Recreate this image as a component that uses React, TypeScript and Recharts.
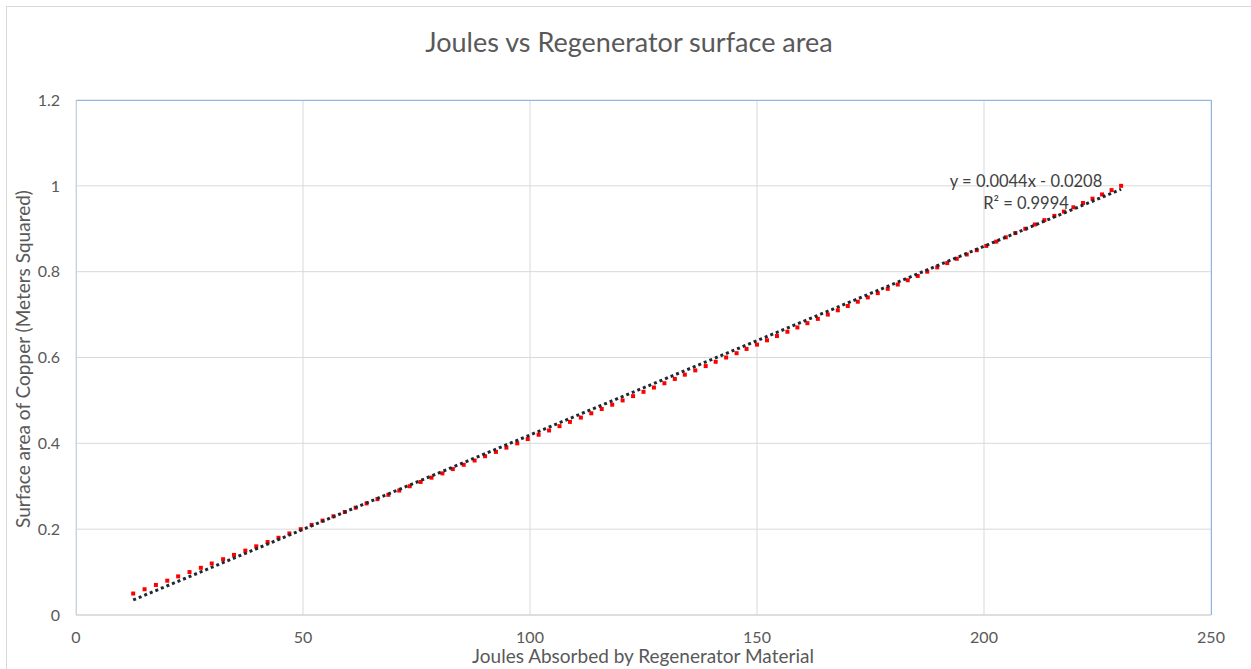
import { ScatterChart, Scatter, XAxis, YAxis, CartesianGrid } from 'recharts';

// surface area of copper (m²), one point per 0.01
const surfaceArea = [
  0.05, 0.06, 0.07, 0.08, 0.09, 0.1, 0.11, 0.12, 0.13, 0.14,
  0.15, 0.16, 0.17, 0.18, 0.19, 0.2, 0.21, 0.22, 0.23, 0.24,
  0.25, 0.26, 0.27, 0.28, 0.29, 0.3, 0.31, 0.32, 0.33, 0.34,
  0.35, 0.36, 0.37, 0.38, 0.39, 0.4, 0.41, 0.42, 0.43, 0.44,
  0.45, 0.46, 0.47, 0.48, 0.49, 0.5, 0.51, 0.52, 0.53, 0.54,
  0.55, 0.56, 0.57, 0.58, 0.59, 0.6, 0.61, 0.62, 0.63, 0.64,
  0.65, 0.66, 0.67, 0.68, 0.69, 0.7, 0.71, 0.72, 0.73, 0.74,
  0.75, 0.76, 0.77, 0.78, 0.79, 0.8, 0.81, 0.82, 0.83, 0.84,
  0.85, 0.86, 0.87, 0.88, 0.89, 0.9, 0.91, 0.92, 0.93, 0.94,
  0.95, 0.96, 0.97, 0.98, 0.99, 1.0,
];

// joules absorbed
const joules = [
  12.6, 15.1, 17.6, 20.1, 22.5, 25.0, 27.5, 29.9, 32.4, 34.8,
  37.3, 39.7, 42.2, 44.6, 47.0, 49.5, 51.9, 54.3, 56.7, 59.2,
  61.6, 64.0, 66.4, 68.8, 71.2, 73.5, 75.9, 78.3, 80.7, 83.0,
  85.4, 87.8, 90.1, 92.5, 94.8, 97.2, 99.5, 101.9, 104.2, 106.5,
  108.8, 111.2, 113.5, 115.8, 118.1, 120.4, 122.7, 125.0, 127.3, 129.6,
  131.9, 134.1, 136.4, 138.7, 140.9, 143.2, 145.5, 147.7, 150.0, 152.2,
  154.4, 156.7, 158.9, 161.1, 163.4, 165.6, 167.8, 170.0, 172.2, 174.4,
  176.6, 178.8, 181.0, 183.2, 185.4, 187.5, 189.7, 191.9, 194.0, 196.2,
  198.4, 200.5, 202.7, 204.8, 206.9, 209.1, 211.2, 213.3, 215.5, 217.6,
  219.7, 221.8, 223.9, 226.0, 228.1, 230.2,
];

// linear trendline ends
const trendX = [12.6, 230.2];
const trendY = [0.035, 0.992];

const xTicks = [0, 50, 100, 150, 200, 250];
const yTicks = [0, 0.2, 0.4, 0.6, 0.8, 1, 1.2];

const points = joules.map((x, i) => ({ x, y: surfaceArea[i] }));
const trend = trendX.map((x, i) => ({ x, y: trendY[i] }));

const FONT = 'Lato, "Open Sans", sans-serif';
const TEXT = '#595959';

const RedSquare = (props: any) => {
  const { cx, cy } = props;
  if (cx == null || cy == null) return null;
  return <rect x={cx - 2} y={cy - 2} width={4} height={4} fill="#ff0000" />;
};

export default function App() {
  return (
    <div style={{ position: 'relative', width: 1251, height: 669, background: '#fff', overflow: 'hidden', fontFamily: FONT }}>
      <style>{`body { margin: 0; }`}</style>

      {/* chart frame */}
      <div style={{ position: 'absolute', left: 6, top: 6, width: 1300, height: 700, border: '1px solid #d9d9d9' }} />

      <div style={{ position: 'absolute', left: 0, top: 25, width: 1258, textAlign: 'center', fontSize: 27, color: TEXT }}>
        Joules vs Regenerator surface area
      </div>

      <div style={{ position: 'absolute', left: 0, top: 0 }}>
        <ScatterChart width={1251} height={669} margin={{ top: 100, right: 40, bottom: 24, left: 16 }}>
          <CartesianGrid stroke="#d9d9d9" />
          <XAxis
            type="number"
            dataKey="x"
            domain={[0, 250]}
            ticks={xTicks}
            tickLine={false}
            axisLine={{ stroke: '#d0d0d0' }}
            tickMargin={11}
            height={30}
            tick={{ fontSize: 16, fill: TEXT, fontFamily: FONT }}
          />
          <YAxis
            type="number"
            dataKey="y"
            domain={[0, 1.2]}
            ticks={yTicks}
            tickLine={false}
            axisLine={false}
            tickMargin={10}
            width={60}
            tick={{ fontSize: 16, fill: TEXT, fontFamily: FONT }}
          />
          <Scatter data={points} shape={<RedSquare />} isAnimationActive={false} />
          <Scatter
            data={trend}
            line={{ stroke: '#1f2833', strokeWidth: 3, strokeDasharray: '3 3' }}
            shape={() => null}
            isAnimationActive={false}
          />
        </ScatterChart>
      </div>

      {/* selected plot area outline */}
      <div style={{ position: 'absolute', left: 76, top: 100, width: 1134, height: 514, borderTop: '1px solid #8fb7e6', borderRight: '1px solid #8fb7e6', borderLeft: '1px solid #c3d4e8', pointerEvents: 'none' }} />

      {/* axis titles */}
      <div style={{ position: 'absolute', left: 343, top: 645, width: 600, textAlign: 'center', fontSize: 19, lineHeight: '22px', color: TEXT, whiteSpace: 'nowrap' }}>
        Joules Absorbed by Regenerator Material
      </div>
      <div style={{ position: 'absolute', left: 23 - 250, top: 359 - 12, width: 500, textAlign: 'center', fontSize: 19, lineHeight: '24px', color: TEXT, whiteSpace: 'nowrap', transform: 'rotate(-90deg)' }}>
        Surface area of Copper (Meters Squared)
      </div>

      <div style={{ position: 'absolute', left: 926, top: 170, width: 200, textAlign: 'center', fontSize: 16.5, lineHeight: '22px', color: '#404040' }}>
        <div>y = 0.0044x - 0.0208</div>
        <div>R² = 0.9994</div>
      </div>
    </div>
  );
}
